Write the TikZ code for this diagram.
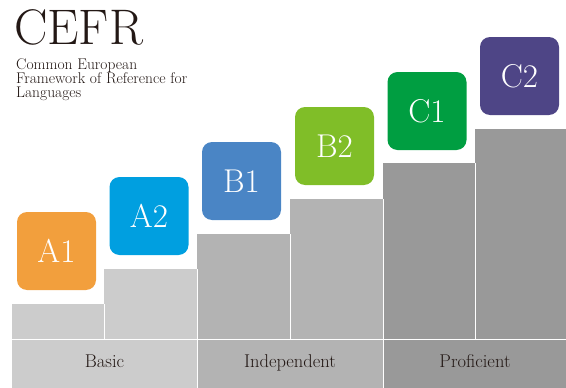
\documentclass[tikz,border=0pt]{standalone}
\usepackage{fontspec}
\usepackage{tikz}

\definecolor{inkblack}{HTML}{231815}
\definecolor{basicgray}{HTML}{CCCCCC}
\definecolor{indepgray}{HTML}{B3B3B3}
\definecolor{profgray}{HTML}{999999}
\definecolor{levelA1}{HTML}{F29F3D}
\definecolor{levelA2}{HTML}{009FE0}
\definecolor{levelB1}{HTML}{4A85C5}
\definecolor{levelB2}{HTML}{80BE28}
\definecolor{levelC1}{HTML}{009E41}
\definecolor{levelC2}{HTML}{4E4586}

\tikzset{
  level/.style={rounded corners=10pt, minimum width=79pt, minimum height=78pt, inner sep=0pt,
    text=white, font=\fontsize{33}{33}\selectfont},
  band/.style={anchor=base, text=inkblack, font=\fontsize{18.5}{18.5}\selectfont},
}

\begin{document}
\begin{tikzpicture}[x=1pt,y=-1pt]
			\useasboundingbox (0,0) rectangle (566,388);
			% title
			\node[anchor=base west, inner sep=0pt, text=inkblack, font=\fontsize{50}{50}\selectfont] (title) at (14,45) {CEFR};
			\node[anchor=north west, inner sep=0pt, align=left, text=inkblack, font=\fontsize{15.5}{14.2}\selectfont] (subtitle) at (16,58) {Common European\\Framework of Reference for\\Languages};
			% steps
			\fill[basicgray] (12,304) rectangle (104,388);
			\fill[basicgray] (104,269) rectangle (197,388);
			\fill[indepgray] (197,234) rectangle (290,388);
			\fill[indepgray] (290,199) rectangle (383,388);
			\fill[profgray] (383,163) rectangle (475,388);
			\fill[profgray] (475,129) rectangle (566,388);
			\draw[white, line width=0.7pt] (12,339) -- (566,339);
			\draw[white, line width=0.7pt] (104,304) -- (104,339);
			\draw[white, line width=0.7pt] (197,269) -- (197,388);
			\draw[white, line width=0.7pt] (290,234) -- (290,339);
			\draw[white, line width=0.7pt] (383,199) -- (383,388);
			\draw[white, line width=0.7pt] (475,163) -- (475,339);
			% levels
			\node[level, fill=levelA1] (A1) at (56.5,251) {A1};
			\node[level, fill=levelA2] (A2) at (149,216) {A2};
			\node[level, fill=levelB1] (B1) at (241.5,181) {B1};
			\node[level, fill=levelB2] (B2) at (334.5,146) {B2};
			\node[level, fill=levelC1] (C1) at (427,111) {C1};
			\node[level, fill=levelC2] (C2) at (519.5,76) {C2};
			% bands
			\node[band] (basic) at (104.5,367) {Basic};
			\node[band] (independent) at (290,367) {Independent};
			\node[band] (proficient) at (475,367) {Proficient};
		\end{tikzpicture}
\end{document}
